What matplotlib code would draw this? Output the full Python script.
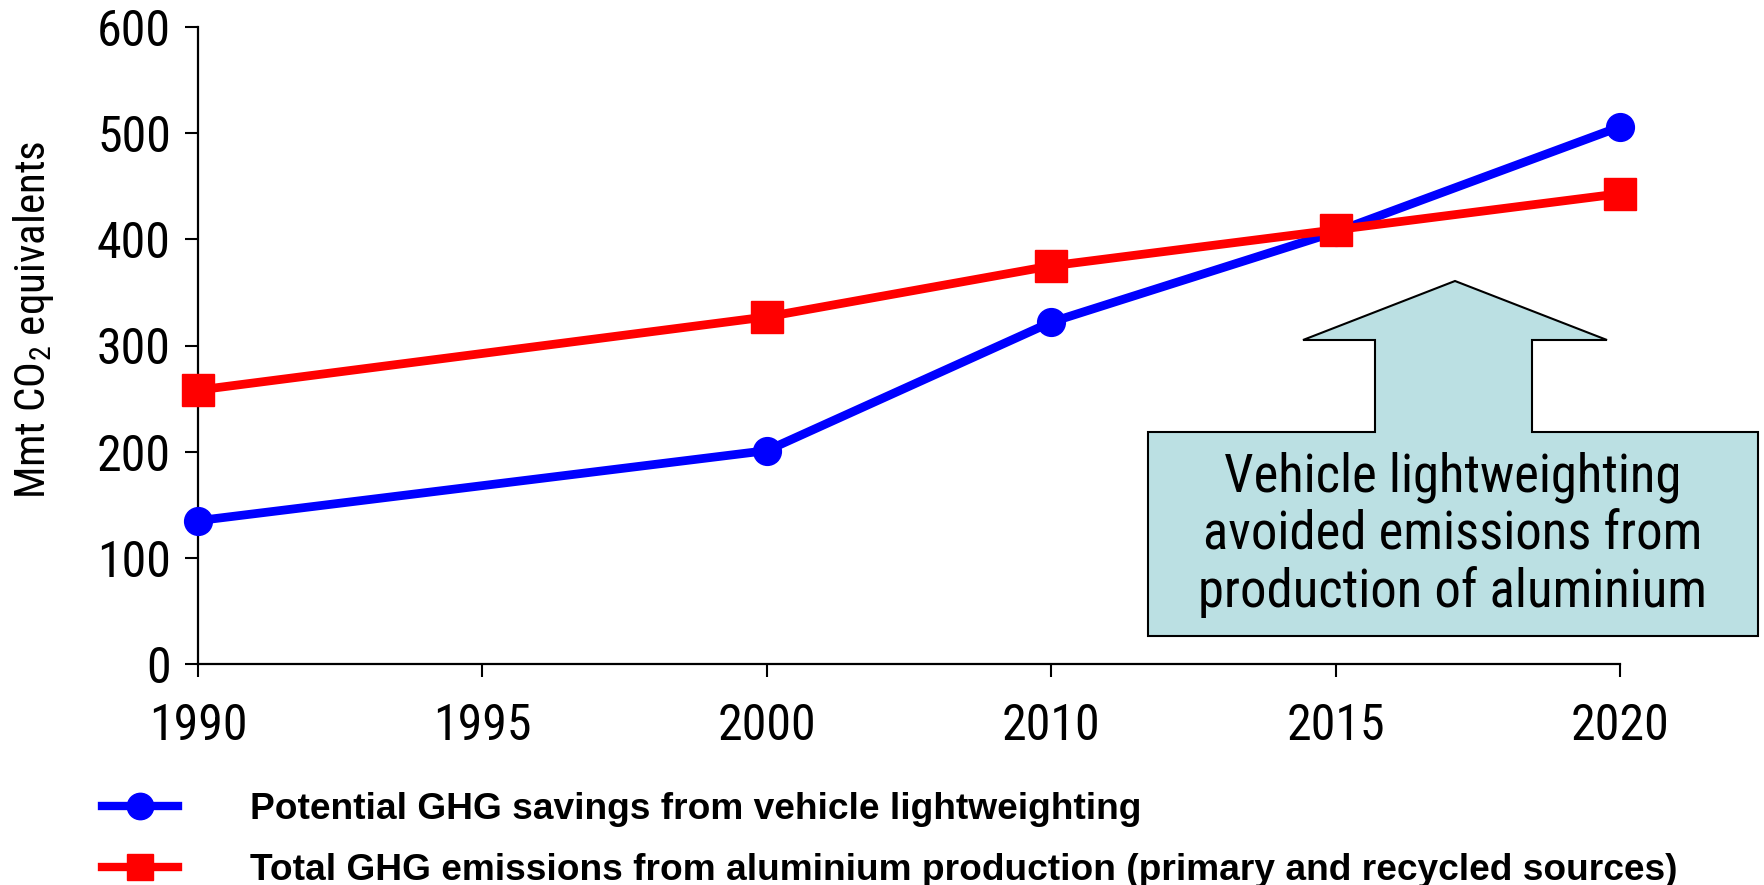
import matplotlib
matplotlib.use('Agg')
import matplotlib.pyplot as plt
from matplotlib.lines import Line2D
from matplotlib.patches import Polygon

# data
tick_labels = ['1990', '1995', '2000', '2010', '2015', '2020']
years = ['1990', '2000', '2010', '2015', '2020']
savings = [135, 201, 322, 407, 506]      # potential GHG savings, vehicle lightweighting
emissions = [258, 327, 375, 409, 443]    # total GHG emissions, aluminium production

narrow = ['Roboto Condensed', 'Liberation Sans', 'DejaVu Sans']
plt.rcParams['font.family'] = narrow
plt.rcParams['mathtext.fontset'] = 'custom'
plt.rcParams['mathtext.rm'] = 'Roboto Condensed'

W, H = 1764, 885
fig = plt.figure(figsize=(W / 100, H / 100), dpi=100)
ax = fig.add_axes([198 / W, 1 - 664 / H, (1620 - 198) / W, (664 - 27) / H])

xpos = [tick_labels.index(y) for y in years]
ax.plot(xpos, savings, color='#0000FF', lw=6.3, marker='o', ms=20, clip_on=False, zorder=3)
ax.plot(xpos, emissions, color='#FF0000', lw=6.3, marker='s', ms=23, clip_on=False, zorder=4)

ax.set_xlim(0, 5)
ax.set_ylim(0, 600)
ax.set_xticks(range(len(tick_labels)))
ax.set_xticklabels(tick_labels)
ax.set_yticks(range(0, 601, 100))
for s in ['top', 'right']:
    ax.spines[s].set_visible(False)
for s in ['left', 'bottom']:
    ax.spines[s].set_linewidth(1.6)
ax.tick_params(axis='both', length=9.5, width=1.5, labelsize=36)
ax.tick_params(axis='x', pad=18)
ax.tick_params(axis='y', pad=10)

ax.set_ylabel('Mmt CO$_\\mathregular{2}$ equivalents', fontsize=31, va='center')
ax.yaxis.set_label_coords(-0.116, 0.54)

# callout arrow + box
pts = [(1148, 636), (1758, 636), (1758, 432), (1532, 432), (1532, 340), (1607, 340),
       (1455, 281), (1303, 340), (1375, 340), (1375, 432), (1148, 432)]
poly = Polygon([(x / W, 1 - y / H) for x, y in pts], closed=True, transform=fig.transFigure,
               facecolor='#BBE0E3', edgecolor='black', lw=1.5)
fig.patches.append(poly)
fig.text(1453 / W, 1 - 535 / H, 'Vehicle lightweighting\navoided emissions from\nproduction of aluminium',
         ha='center', va='center', multialignment='center', fontsize=38, linespacing=1.15)

handles = [
    Line2D([], [], color='#0000FF', lw=6, marker='o', ms=19),
    Line2D([], [], color='#FF0000', lw=6, marker='s', ms=19),
]
labels = ['Potential GHG savings from vehicle lightweighting',
          'Total GHG emissions from aluminium production (primary and recycled sources)']
fig.legend(handles, labels, loc='upper left', bbox_to_anchor=(102 / W, 1 - 792 / H),
           frameon=False, borderpad=0, borderaxespad=0, handlelength=2.05, handletextpad=1.95,
           labelspacing=0.7, prop={'family': 'Liberation Sans', 'weight': 'bold', 'size': 26.7})

fig.savefig('out.png', dpi=100)
